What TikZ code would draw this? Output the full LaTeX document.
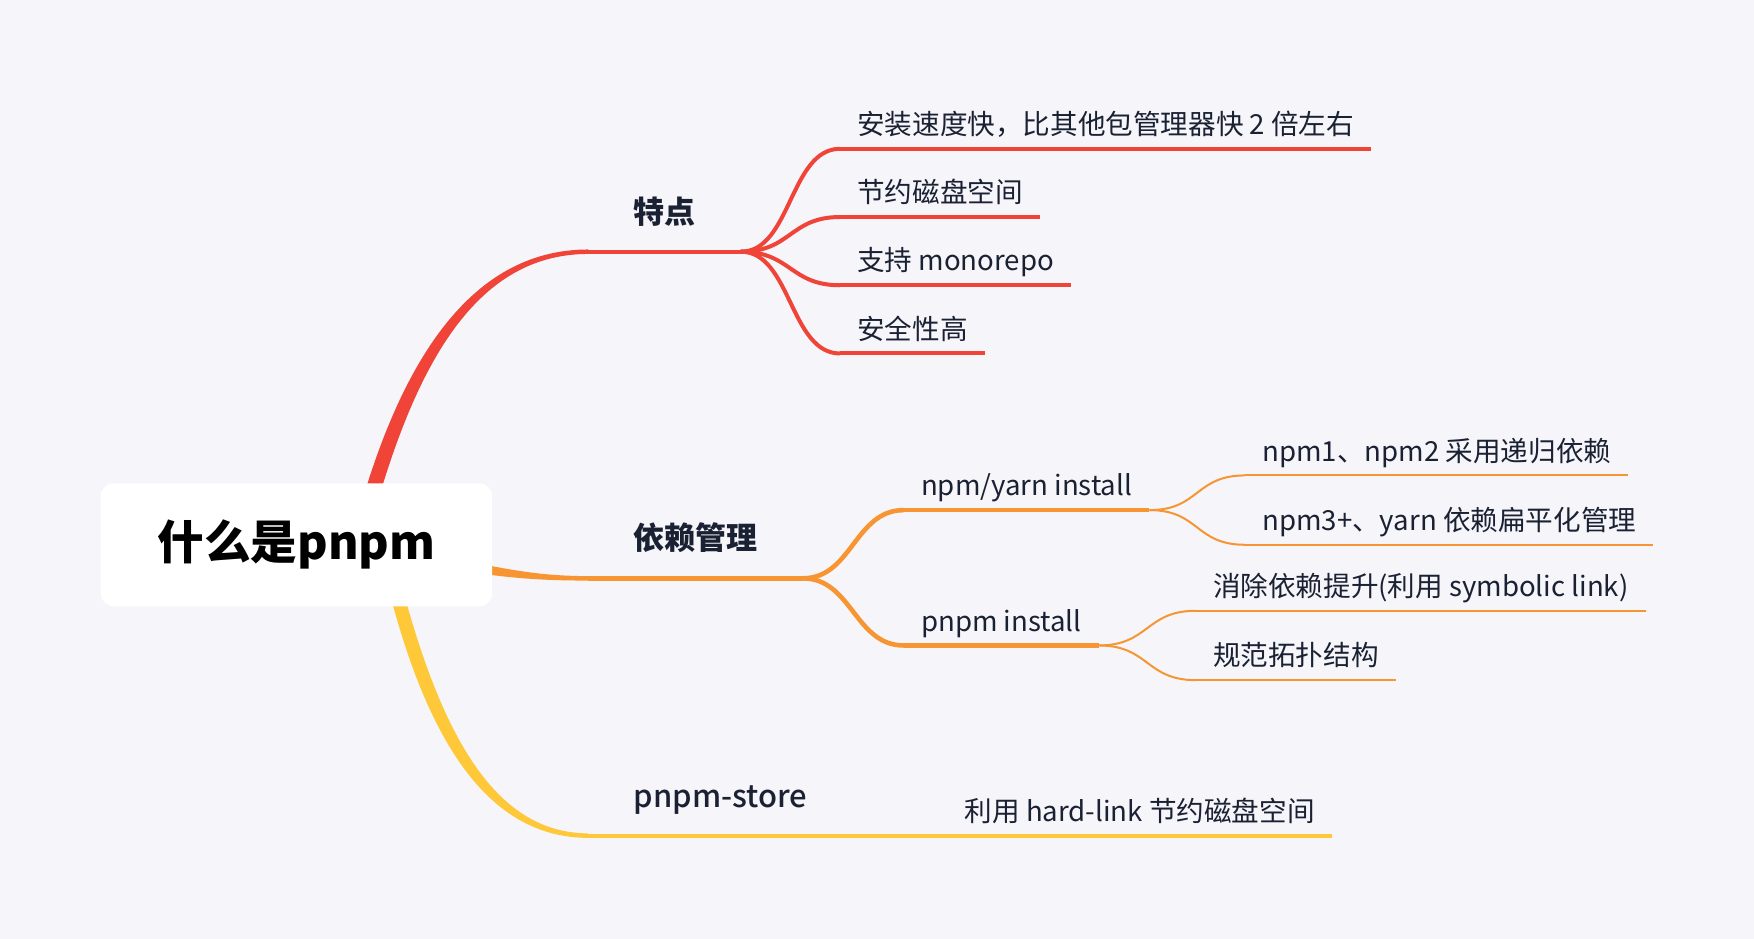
\documentclass[tikz,border=0pt]{standalone}
\usepackage{fontspec}
\setmainfont{Noto Sans CJK SC}
\newfontfamily\medfont{Noto Sans CJK SC Medium}
\usetikzlibrary{calc}
\definecolor{paper}{RGB}{245,245,250}
\definecolor{redbr}{RGB}{240,68,56}
\definecolor{orangebr}{RGB}{247,149,50}
\definecolor{yellowbr}{RGB}{255,200,56}
\definecolor{ink}{RGB}{26,33,51}
\pgfdeclarelayer{paperlayer}
\pgfdeclarelayer{branch}
\pgfsetlayers{paperlayer,branch,main}

\begin{document}
\begin{tikzpicture}[
    x=0.5593pt, y=-0.5593pt,
    every node/.style={font=\fontsize{13.8pt}{16pt}\selectfont, text=ink},
    main node/.style={rectangle, fill=white, rounded corners=6.7pt, minimum width=195.8pt, minimum height=61.5pt, font=\fontsize{23.3pt}{28pt}\selectfont\bfseries, text=black},
    topic node/.style={anchor=south west, inner xsep=22.4pt, inner ysep=11.5pt, text depth=0.25em, font=\fontsize{15.5pt}{18pt}\selectfont\bfseries},
    sub node/.style={anchor=south west, inner xsep=8.4pt, inner ysep=4.5pt, text depth=0.25em},
    red line/.style={draw=redbr, line width=2pt},
    orange line/.style={draw=orangebr, line width=2.3pt},
    orange thin/.style={draw=orangebr, line width=1pt},
    yellow line/.style={draw=yellowbr, line width=2pt}
]

% Paper
\begin{pgfonlayer}{paperlayer}
\fill[paper] (0,0) rectangle (1568,839);
\end{pgfonlayer}

% Root
\node[main node] (root) at (265,487) {什么是pnpm};

% Main topics
\node[topic node] (feat) at (526,225) {特点};
\node[topic node] (dep) at (526,517) {依赖管理};
\node[topic node, font=\fontsize{15.5pt}{18pt}\medfont] (store) at (526,747) {pnpm-store};

% Features
\node[sub node] (feat1) at (751,133) {安装速度快，比其他包管理器快 2 倍左右};
\node[sub node] (feat2) at (751,194) {节约磁盘空间};
\node[sub node] (feat3) at (751,255) {支持 monorepo};
\node[sub node] (feat4) at (751,316) {安全性高};

% Dependencies
\node[sub node] (npmyarn) at (808,456) {npm/yarn install};
\node[sub node] (pnpmins) at (808,577) {pnpm install};
\node[sub node] (npm12) at (1113,425) {npm1、npm2 采用递归依赖};
\node[sub node] (npm3) at (1113,487) {npm3+、yarn 依赖扁平化管理};
\node[sub node] (hoist) at (1069,546) {消除依赖提升(利用 symbolic link)};
\node[sub node] (topo) at (1069,608) {规范拓扑结构};

% Store
\node[sub node] (hardlink) at (847,747) {利用 hard-link 节约磁盘空间};

% Branches from root
\begin{pgfonlayer}{branch}
\fill[redbr] ($(root.center)+(48,0)$) .. controls ($(root.center)+(88,-159)$) and ($(feat.south west)+(-108,-2)$) .. ($(feat.south west)+(0,-2)$)
    -- ($(feat.south west)+(0,2)$) .. controls ($(feat.south west)+(-104,2)$) and ($(root.center)+(102,-155)$) .. ($(root.center)+(62,0)$) -- cycle;
\fill[orangebr] ($(root.center)+(115,8)$) .. controls ($(root.center)+(175,18)$) and ($(dep.south west)+(-56,-2)$) .. ($(dep.south west)+(0,-2)$)
    -- ($(dep.south west)+(0,2)$) .. controls ($(dep.south west)+(-56,2)$) and ($(root.center)+(175,28)$) .. ($(root.center)+(115,18)$) -- cycle;
\fill[yellowbr] ($(root.center)+(73,0)$) .. controls ($(root.center)+(107,155)$) and ($(store.south west)+(-100,2)$) .. ($(store.south west)+(0,2)$)
    -- ($(store.south west)+(0,-2)$) .. controls ($(store.south west)+(-92,-2)$) and ($(root.center)+(121,151)$) .. ($(root.center)+(85,0)$) -- cycle;
\end{pgfonlayer}

% Underlines
\draw[red line] (feat.south west) -- (feat.south east);
\draw[orange line] (dep.south west) -- (dep.south east);
\draw[yellow line] (store.south west) -- (store.south east);
\foreach \n in {feat1,feat2,feat3,feat4}
    \draw[red line] (\n.south west) -- (\n.south east);
\foreach \n in {npmyarn,pnpmins}
    \draw[orange line] (\n.south west) -- (\n.south east);
\foreach \n in {npm12,npm3,hoist,topo}
    \draw[orange thin] (\n.south west) -- (\n.south east);
\draw[yellow line] (hardlink.south west) -- (hardlink.south east);

% Connectors
\foreach \n in {feat1,feat2,feat3,feat4}
    \draw[red line] (feat.south east) .. controls +(45,0) and +(-45,0) .. (\n.south west);
\foreach \n in {npmyarn,pnpmins}
    \draw[orange line] (dep.south east) .. controls +(44,0) and +(-44,0) .. (\n.south west);
\foreach \n in {npm12,npm3}
    \draw[orange thin] (npmyarn.south east) .. controls +(45,0) and +(-45,0) .. (\n.south west);
\foreach \n in {hoist,topo}
    \draw[orange thin] (pnpmins.south east) .. controls +(45,0) and +(-45,0) .. (\n.south west);
\draw[yellow line] (store.south east) -- (hardlink.south west);

\end{tikzpicture}
\end{document}
